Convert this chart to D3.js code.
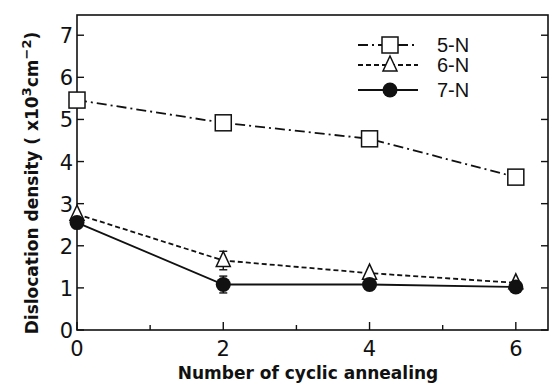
<!DOCTYPE html>
<html>
<head>
<meta charset="utf-8">
<script src="https://cdn.jsdelivr.net/npm/d3@7"></script>
<style>
  body { margin: 0; background: #fff; }
  svg { display: block; }
</style>
</head>
<body>
<svg id="chart" width="553" height="385"></svg>
<script>
// data
const cycles = [0, 2, 4, 6];
const n5 = [5.46, 4.92, 4.54, 3.63];
const n6 = [2.75, 1.65, 1.35, 1.12];
const n7 = [2.55, 1.08, 1.08, 1.02];
const n6Err = [0, 0.22, 0, 0];
const n7Err = [0, 0.2, 0, 0];
const seriesNames = ["5-N", "6-N", "7-N"];
const yTicks = [0, 1, 2, 3, 4, 5, 6, 7];
const xMajor = [0, 2, 4, 6];
const xMinor = [1, 3, 5];

const svg = d3.select("#chart");
const plotLeft = 77, plotRight = 548, plotTop = 15, plotBottom = 330;

const x = d3.scaleLinear().domain([0, 6.44]).range([plotLeft, plotRight]);
const y = d3.scaleLinear().domain([0, 7.48]).range([plotBottom, plotTop]);

const ink = "#111";
const axisFont = "'DejaVu Sans', sans-serif";

// frame
svg.append("rect")
    .attr("x", plotLeft).attr("y", plotTop)
    .attr("width", plotRight - plotLeft).attr("height", plotBottom - plotTop)
    .attr("fill", "none").attr("stroke", ink).attr("stroke-width", 1.6);

// y ticks, inward on both sides
const g = svg.append("g");
yTicks.forEach(function (t) {
    g.append("line").attr("x1", plotLeft).attr("x2", plotLeft + 7)
        .attr("y1", y(t)).attr("y2", y(t)).attr("stroke", ink).attr("stroke-width", 1.4);
    g.append("line").attr("x1", plotRight).attr("x2", plotRight - 7)
        .attr("y1", y(t)).attr("y2", y(t)).attr("stroke", ink).attr("stroke-width", 1.4);
    g.append("text")
        .attr("x", plotLeft - 4).attr("y", y(t) + 8)
        .attr("text-anchor", "end")
        .attr("font-family", axisFont).attr("font-size", 21)
        .attr("fill", ink)
        .text(t);
});

// x ticks
xMajor.forEach(function (t) {
    g.append("line").attr("x1", x(t)).attr("x2", x(t))
        .attr("y1", plotBottom).attr("y2", plotBottom - 8).attr("stroke", ink).attr("stroke-width", 1.4);
    g.append("text")
        .attr("x", x(t)).attr("y", plotBottom + 26)
        .attr("text-anchor", "middle")
        .attr("font-family", axisFont).attr("font-size", 21)
        .attr("fill", ink)
        .text(t);
});
xMinor.forEach(function (t) {
    g.append("line").attr("x1", x(t)).attr("x2", x(t))
        .attr("y1", plotBottom).attr("y2", plotBottom - 5).attr("stroke", ink).attr("stroke-width", 1.4);
});

// axis titles
svg.append("text")
    .attr("x", 308).attr("y", 379)
    .attr("text-anchor", "middle")
    .attr("font-family", axisFont).attr("font-size", 17).attr("font-weight", "bold")
    .attr("fill", ink)
    .text("Number of cyclic annealing");

const yTitle = svg.append("text")
    .attr("transform", "translate(38,183) rotate(-90)")
    .attr("text-anchor", "middle")
    .attr("font-family", axisFont).attr("font-size", 17).attr("font-weight", "bold")
    .attr("fill", ink);
yTitle.append("tspan").text("Dislocation density ( x10");
yTitle.append("tspan").attr("dy", -7).attr("font-size", 13).text("3");
yTitle.append("tspan").attr("dy", 7).text("cm");
yTitle.append("tspan").attr("dy", -7).attr("font-size", 13).text("\u22122");
yTitle.append("tspan").attr("dy", 7).text(")");

// series
const series = [
    { name: seriesNames[0], vals: n5, err: null, dash: "10,4,2,4", marker: "square" },
    { name: seriesNames[1], vals: n6, err: n6Err, dash: "5,3", marker: "triangle" },
    { name: seriesNames[2], vals: n7, err: n7Err, dash: null, marker: "circle" }
];

const line = d3.line()
    .x(function (d) { return x(d[0]); })
    .y(function (d) { return y(d[1]); });

function drawMarker(sel, type, cx, cy) {
    if (type === "square") {
        sel.append("rect").attr("x", cx - 8).attr("y", cy - 8)
            .attr("width", 16).attr("height", 16)
            .attr("fill", "#fff").attr("stroke", ink).attr("stroke-width", 1.5);
    } else if (type === "triangle") {
        sel.append("path")
            .attr("d", "M" + cx + "," + (cy - 9) + "L" + (cx + 7) + "," + (cy + 6) + "L" + (cx - 7) + "," + (cy + 6) + "Z")
            .attr("fill", "#fff").attr("stroke", ink).attr("stroke-width", 1.5);
    } else {
        sel.append("circle").attr("cx", cx).attr("cy", cy).attr("r", 7.5)
            .attr("fill", ink);
    }
}

const plot = svg.append("g");
series.forEach(function (s) {
    const pts = cycles.map(function (c, i) { return [c, s.vals[i]]; });
    plot.append("path")
        .attr("d", line(pts))
        .attr("fill", "none").attr("stroke", ink).attr("stroke-width", 1.8)
        .attr("stroke-dasharray", s.dash);
    if (s.err) {
        pts.forEach(function (p, i) {
            if (s.err[i] > 0) {
                const y1 = y(p[1] - s.err[i]), y2 = y(p[1] + s.err[i]);
                plot.append("line").attr("x1", x(p[0])).attr("x2", x(p[0]))
                    .attr("y1", y1).attr("y2", y2).attr("stroke", ink).attr("stroke-width", 1.4);
                [y1, y2].forEach(function (yy) {
                    plot.append("line").attr("x1", x(p[0]) - 4).attr("x2", x(p[0]) + 4)
                        .attr("y1", yy).attr("y2", yy).attr("stroke", ink).attr("stroke-width", 1.4);
                });
            }
        });
    }
});
series.forEach(function (s) {
    cycles.forEach(function (c, i) {
        drawMarker(plot, s.marker, x(c), y(s.vals[i]));
    });
});

// legend
const legendY = [45, 65, 90];
const legend = svg.append("g");
series.forEach(function (s, i) {
    const ly = legendY[i];
    legend.append("line").attr("x1", 358).attr("x2", 418)
        .attr("y1", ly).attr("y2", ly)
        .attr("stroke", ink).attr("stroke-width", 1.8)
        .attr("stroke-dasharray", s.dash);
    drawMarker(legend, s.marker, 390, ly);
    legend.append("text")
        .attr("x", 437).attr("y", ly + 7)
        .attr("font-family", "'Liberation Sans', Arial, sans-serif").attr("font-size", 20)
        .attr("fill", ink)
        .text(s.name);
});
</script>
</body>
</html>
